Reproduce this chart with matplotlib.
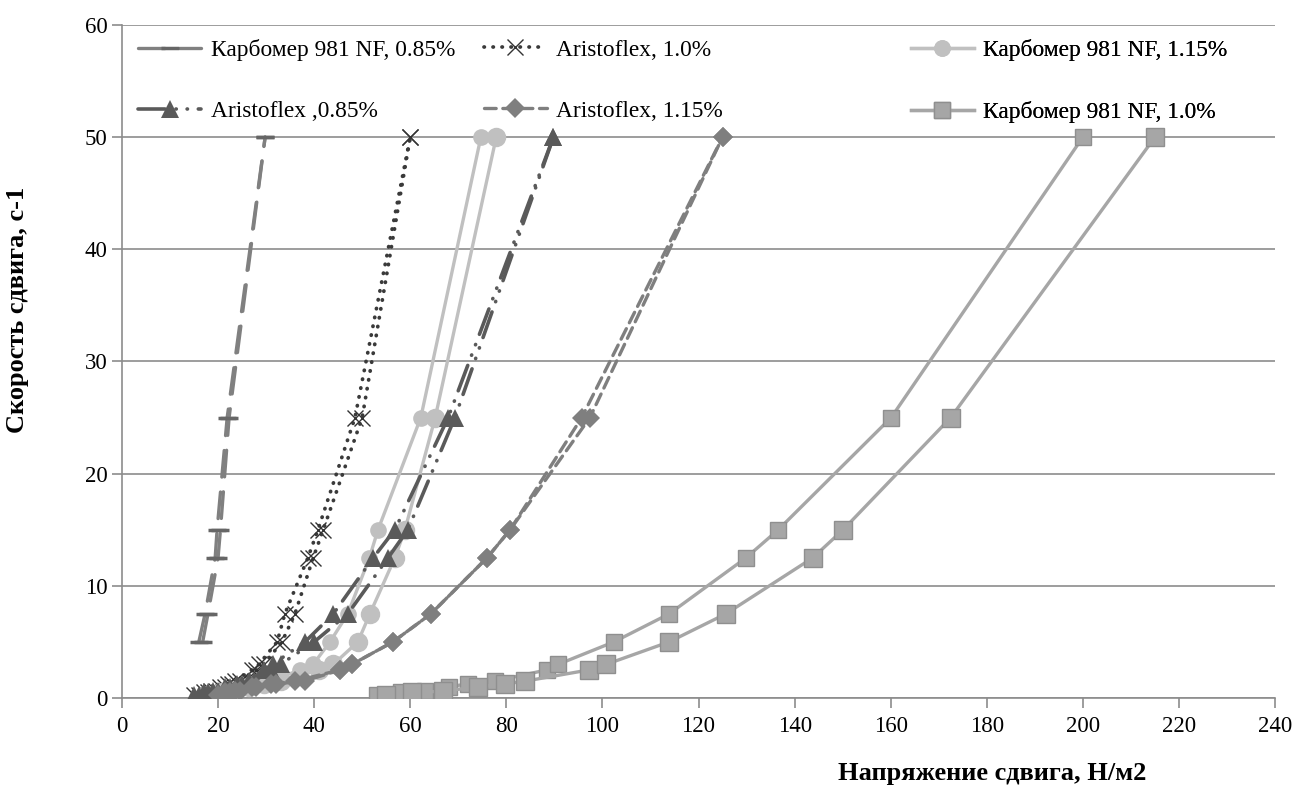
import matplotlib
matplotlib.use("Agg")
import matplotlib.pyplot as plt

plt.rcParams['font.family'] = ['Liberation Serif', 'DejaVu Serif']

# shear rates, s-1
rates = [0.3, 0.5, 0.6, 1.0, 1.25, 1.5, 2.5, 3.0, 5.0, 7.5, 12.5, 15.0, 25.0, 50.0]
rates_k085 = [5.0, 7.5, 12.5, 15.0, 25.0, 50.0]

# shear stress, N/m2 (up = increasing rate, down = decreasing rate)
k085_up = [16.0, 17.3, 19.4, 19.8, 21.9, 29.8]
k085_down = [16.8, 17.9, 20.0, 20.5, 22.3, 29.8]
a10_up = [15.0, 17.0, 18.5, 20.5, 22.0, 23.5, 27.0, 28.5, 32.3, 33.9, 38.7, 40.8, 48.5, 60.0]
a10_down = [16.0, 18.0, 19.5, 21.5, 23.0, 24.5, 28.0, 29.5, 33.3, 36.0, 39.8, 41.9, 50.0, 60.0]
k115_up = [17.0, 20.0, 22.0, 25.0, 28.0, 31.0, 37.0, 39.8, 43.3, 47.0, 51.5, 53.3, 62.2, 74.7]
k115_down = [18.0, 21.0, 23.0, 26.5, 29.5, 33.0, 41.0, 44.0, 49.1, 51.6, 56.8, 58.9, 65.2, 77.9]
a085_up = [15.0, 17.0, 19.0, 21.5, 24.0, 26.5, 29.5, 31.4, 38.1, 44.0, 52.3, 56.8, 67.9, 89.8]
a085_down = [16.0, 18.0, 20.0, 22.5, 25.0, 27.5, 31.0, 33.0, 40.0, 47.0, 55.4, 59.5, 69.3, 89.8]
a115_up = [20.0, 21.5, 23.5, 27.0, 31.0, 36.0, 45.4, 47.9, 56.4, 64.3, 76.0, 80.8, 95.7, 125.0]
a115_down = [21.0, 22.5, 24.5, 28.0, 32.0, 38.0, 45.4, 47.9, 56.4, 64.3, 76.0, 80.8, 97.4, 125.0]
k10_up = [53.0, 58.0, 63.0, 68.0, 72.0, 77.6, 88.4, 90.8, 102.4, 113.9, 129.9, 136.6, 160.1, 200.0]
k10_down = [55.0, 60.4, 66.9, 74.1, 79.7, 83.9, 97.2, 100.8, 113.9, 125.7, 143.8, 150.1, 172.5, 215.0]

labels = ['Карбомер 981 NF, 0.85%', 'Aristoflex, 1.0%', 'Карбомер 981 NF, 1.15%',
          'Aristoflex ,0.85%', 'Aristoflex, 1.15%', 'Карбомер 981 NF, 1.0%']

x_ticks = list(range(0, 241, 20))
y_ticks = list(range(0, 61, 10))

fig = plt.figure(figsize=(13.03, 7.9), dpi=100)
ax = fig.add_axes([0.0936, 0.1165, 0.885, 0.852])

grid_col = '#8c8c8c'
lw = 2.4

# one style per material; both branches are drawn with it
styles = [
    dict(color='#808080', ls=(0, (8, 4.5)), lw=lw, marker='_', ms=13, mew=2.5, mec='#666666', mfc='#666666'),
    dict(color='#3a3a3a', ls=(0, (0.1, 2.3)), lw=2.7, marker='x', ms=12, mew=1.0, mec='#333333', mfc='#333333'),
    dict(color='#c0c0c0', ls='-', lw=lw, marker='o', ms=12, mew=0, mec='#c0c0c0', mfc='#c0c0c0'),
    dict(color='#5a5a5a', ls=(0, (7.5, 3, 0.1, 3, 0.1, 3)), lw=2.6, marker='^', ms=13, mew=0, mec='#5a5a5a', mfc='#5a5a5a'),
    dict(color='#7f7f7f', ls=(0, (3.5, 2)), lw=lw, marker='D', ms=10, mew=0, mec='#7f7f7f', mfc='#7f7f7f'),
    dict(color='#a6a6a6', ls='-', lw=lw, marker='s', ms=11, mew=1.0, mec='#8f8f8f', mfc='#a6a6a6'),
]
series = [
    (rates_k085, k085_up, k085_down),
    (rates, a10_up, a10_down),
    (rates, k115_up, k115_down),
    (rates, a085_up, a085_down),
    (rates, a115_up, a115_down),
    (rates, k10_up, k10_down),
]

handles = []
for i, (r, up, down) in enumerate(series):
    st = dict(styles[i])
    h, = ax.plot(up, r, dash_capstyle='round', zorder=3 + i, label=labels[i], **st)
    if st['marker'] in ('s', 'o'):
        st['ms'] += 2
    ax.plot(down, r, dash_capstyle='round', zorder=3 + i, **st)
    handles.append(h)

ax.set_xlim(0, 240)
ax.set_ylim(0, 60)
ax.set_xticks(x_ticks)
ax.set_yticks(y_ticks)
ax.yaxis.grid(True, color=grid_col, lw=1.2)
ax.set_axisbelow(True)
for s in ['top', 'right']:
    ax.spines[s].set_visible(False)
for s in ['left', 'bottom']:
    ax.spines[s].set_color(grid_col)
    ax.spines[s].set_linewidth(1.2)
ax.tick_params(axis='both', colors=grid_col, labelcolor='black', labelsize=16.5,
               length=7, width=1.2)
ax.tick_params(axis='x', pad=6)

ax.set_xlabel('Напряжение сдвига, Н/м2', fontsize=19, fontweight='bold')
ax.xaxis.set_label_coords(0.755, -0.095)
ax.set_ylabel('Скорость сдвига, с-1', fontsize=19, fontweight='bold')
ax.yaxis.set_label_coords(-0.081, 0.577)

# legend: three columns of two rows
col_x = [0.004, 0.3035, 0.674]
for c in range(3):
    leg = ax.legend([handles[c], handles[c + 3]], [labels[c], labels[c + 3]],
                    loc='upper left', bbox_to_anchor=(col_x[c], 0.996),
                    frameon=False, fontsize=16.8, handlelength=2.7,
                    handletextpad=0.4, labelspacing=1.7, borderpad=0.5,
                    borderaxespad=0)
    ax.add_artist(leg)

fig.savefig('out.png', dpi=100)
